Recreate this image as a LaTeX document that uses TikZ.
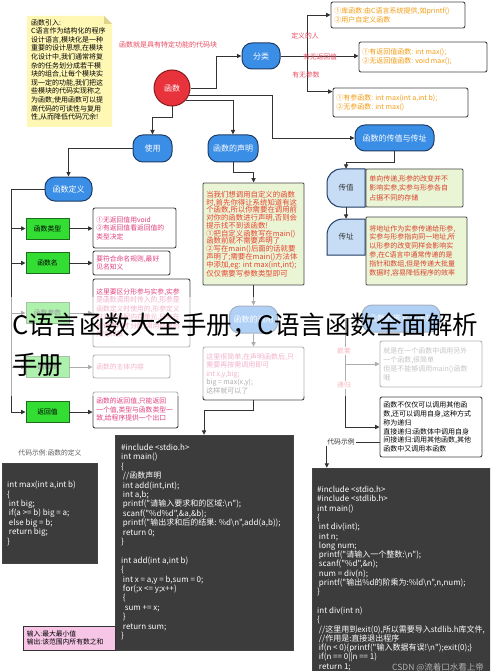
\documentclass[tikz,border=0pt]{standalone}
\usepackage{fontspec}
\setmainfont{Noto Sans CJK SC}
\newfontfamily\codefont{Noto Sans CJK SC}
\usetikzlibrary{arrows.meta}
\definecolor{linec}{HTML}{333333}
\definecolor{nblue}{HTML}{3A8EE6}
\definecolor{navy}{HTML}{1F3D66}
\definecolor{gbright}{HTML}{33DD33}
\definecolor{gdark}{HTML}{1E6B1E}
\definecolor{fnred}{HTML}{E8323C}
\definecolor{fnredd}{HTML}{8B1A1A}
\definecolor{pinkt}{HTML}{E0407F}
\definecolor{declt}{HTML}{E8432E}
\definecolor{redt}{HTML}{D9402B}
\definecolor{oranget}{HTML}{F39C12}
\definecolor{labc}{HTML}{E84A5F}
\definecolor{notey}{HTML}{FFF8B4}
\definecolor{notef}{HTML}{DDD38A}
\definecolor{greenbox}{HTML}{EAF5D5}
\definecolor{lightblue}{HTML}{C7DDF5}
\definecolor{codebg}{HTML}{3C3C3C}
\definecolor{pinkbox}{HTML}{F7C6E6}
\definecolor{boxb}{HTML}{444444}
\newcommand{\fsz}[2]{\fontsize{#1}{#2}\selectfont}
\newcommand{\mybox}[8]{%
  \node[#6, minimum width={(#4-#2)*1pt}, minimum height={(#5-#3)*1pt}] (#1) at ({(#2+#4)/2},{(#3+#5)/2}) {};
  \node[anchor=west, align=left, inner sep=0pt, #7] at ([xshift=3.5pt]#1.west) {#8};}
\begin{document}
\begin{tikzpicture}[x=1pt,y=-1pt,
  conn/.style={draw=linec, line width=0.9pt, -{Triangle[length=4.5pt,width=4.2pt]}},
  bnode/.style={draw=navy, line width=1pt, fill=nblue, text=white, rounded corners=10pt, font=\fsz{8}{9}, inner sep=0pt},
  gnode/.style={draw=gdark, line width=0.9pt, fill=gbright, font=\fsz{6.8}{8}, minimum width=43pt, minimum height=21pt, inner sep=0pt},
  dbox/.style={draw=boxb, line width=0.9pt, fill=white, rounded corners=2pt},
  lbl/.style={text=labc, font=\fsz{6.8}{8}, inner sep=1pt},
  pinktxt/.style={text=pinkt, font=\fsz{6.8}{8.5}},
  codetxt/.style={text=white, font=\codefont\fsz{8}{9.4}, align=left, inner sep=0pt, anchor=north west},
]
\useasboundingbox (0,0) rectangle (490,671);
\clip (0,0) rectangle (490,671);
\fill[white] (0,0) rectangle (490,671);

% note
\fill[notey] (27,16) -- (104,16) -- (112,24) -- (112,127) -- (27,127) -- cycle;
\fill[notef] (104,16) -- (104,24) -- (112,24) -- cycle;
\node[anchor=north west, align=left, inner sep=0pt, font=\fsz{7}{8.6}] (note) at (31,19) {函数引入:\\C语言作为结构化的程序\\设计语言,模块化是一种\\重要的设计思想,在模块\\化设计中,我们通常将复\\杂的任务划分成若干模\\块的组合,让每个模块实\\现一定的功能,我们把这\\些模块的代码实现称之\\为函数;使用函数可以提\\高代码的可读性与复用\\性,从而降低代码冗余!};

\node[text=labc, font=\fsz{7}{8}] (deflabel) at (168,45) {函数就是具有特定功能的代码块};

% main circle
\node[circle, fill=fnred, draw=fnredd, line width=1pt, minimum size=36pt, inner sep=0pt, text=white, font=\fsz{8}{9}] (fn) at (172,88) {函数};

% blue nodes
\node[bnode, minimum width=38pt, minimum height=26pt] (cls) at (261,56) {分类};
\node[bnode, minimum width=39pt, minimum height=27pt] (use) at (152.5,148.5) {使用};
\node[bnode, minimum width=50pt, minimum height=27pt] (decl) at (233,148.5) {函数的声明};
\node[bnode, minimum width=79pt, minimum height=26pt] (pv) at (394.5,138) {函数的传值与传址};
\node[bnode, minimum width=47pt, minimum height=24pt] (def) at (68.5,189) {函数定义};
\node[bnode, minimum width=48pt, minimum height=27pt] (call) at (253.5,319.5) {函数的调用};
\node[bnode, minimum width=78pt, minimum height=27pt] (nest) at (401,318.5) {函数的嵌套与递归};

% classification boxes
\mybox{b1}{331}{2}{465}{28}{dbox}{text=oranget, font=\fsz{7}{9}}{①库函数:由C语言系统提供,如printf()\\②用户自定义函数}
\mybox{b2}{359}{42}{487}{72}{dbox}{text=oranget, font=\fsz{7}{9}}{①有返回值函数: int max();\\②无返回值函数: void max();}
\mybox{b3}{333}{88}{468}{117}{dbox}{text=oranget, font=\fsz{7}{9}}{①有参函数: int max(int a,int b);\\②无参函数: int max()}

% left column
\node[gnode] (g1) at (47.5,228.5) {函数类型};
\node[gnode] (g2) at (47.5,263) {函数名};
\node[gnode] (g3) at (47.5,313) {函数参数};
\node[gnode] (g4) at (47.5,367) {函数体};
\node[gnode] (g5) at (47.5,412) {返回值};
\mybox{d1}{93}{208}{176}{248}{dbox}{pinktxt}{①无返回值用void\\②有返回值看返回值的\\类型决定}
\mybox{d2}{93}{251}{170}{275}{dbox}{pinktxt}{要符合命名规则,最好\\见名知义}
\mybox{d3}{93}{279}{190}{347}{dbox}{pinktxt}{这里要区分形参与实参,实参\\是函数调用时传入的,形参是\\函数定义时使用的,形参定义\\时并不分配内存单元,只有在\\被调用时才分配,调用结束后\\用完释放}
\mybox{d4}{93}{355}{170}{378}{dbox}{pinktxt}{函数的主体内容}
\mybox{d5}{93}{392}{178}{428}{dbox}{pinktxt}{函数的返回值,只能返回\\一个值,类型与函数类型一\\致,给程序提供一个出口}

% middle column
\mybox{declbox}{203}{183}{304}{285}{dbox, fill=greenbox, rounded corners=1pt}{text=declt, font=\fsz{7.4}{7.75}}{当我们想调用自定义的函数\\时,首先你得让系统知道有这\\个函数,所以你需要在调用前\\对你的函数进行声明,否则会\\提示找不到该函数!\\①把自定义函数写在main()\\函数前就不需要声明了\\②写在main()后面的话就要\\声明了;需要在main()方法体\\中添加,eg: int max(int,int);\\仅仅需要写参数类型即可}
\mybox{callbox}{203}{347}{304}{400}{dbox}{font=\fsz{7}{8.5}}{\textcolor{pinkt}{这里很简单,在声明函数后,只}\\\textcolor{pinkt}{需要再按需调用即可}\\\textcolor{pinkt}{int x,y,big;}\\\textcolor{linec}{big = max(x,y);}\\\textcolor{linec}{这样就可以了}}

% pass by value / address
\fill[lightblue, draw=navy, line width=1pt] (365,169) -- (341,169) .. controls (333.3,169) and (327,175.3) .. (327,183) -- (327,193) .. controls (327,200.7) and (333.3,207) .. (341,207) -- (365,207) -- cycle;
\node[minimum width=38pt, minimum height=38pt, inner sep=0pt, text=linec, font=\fsz{7.5}{8}] (cz) at (346,188) {传值};
\fill[lightblue, draw=navy, line width=1pt] (365,219) -- (343,219) .. controls (334.2,219) and (327,226.2) .. (327,235) -- (327,255) -- (365,255) -- cycle;
\node[minimum width=38pt, minimum height=36pt, inner sep=0pt, text=linec, font=\fsz{7.5}{8}] (cd) at (346,237) {传址};
\mybox{czbox}{366}{169}{463}{207}{dbox, fill=greenbox, rounded corners=1pt}{text=redt, font=\fsz{7}{9.5}}{单向传递,形参的改变并不\\影响实参,实参与形参各自\\占据不同的存储}
\mybox{cdbox}{366}{217}{467}{285}{dbox, fill=greenbox, rounded corners=1pt}{text=redt, font=\fsz{7}{8.9}}{将地址作为实参传递给形参,\\实参与形参指向同一地址,所\\以形参的改变同样会影响实\\参,在C语言中通常传递的是\\指针和数组,但是传递大批量\\数据时,容易降低程序的效率}

% nesting / recursion
\mybox{nestbox}{380}{341}{482}{387}{dbox}{text=linec!70, font=\fsz{7}{9}}{就是在一个函数中调用另外\\一个函数,很简单\\但是不能够调用main()函数\\哦}
\mybox{recbox}{380}{397}{482}{457}{dbox}{text=black, font=\fsz{7}{8.8}}{函数不仅仅可以调用其他函\\数,还可以调用自身,这种方式\\称为递归\\直接递归:函数体中调用自身\\间接递归:调用其他函数,其他\\函数中又调用本函数}

% code boxes
\node[fill=codebg, draw=boxb, minimum width=95pt, minimum height=100pt, inner sep=0pt] (code0) at (49.5,513) {};
\node[codetxt] at (7,481) {int max(int a,int b)\\\{\\\ int big;\\\ if(a >= b) big = a;\\\ else big = b;\\\ return big;\\\}};
\node[text=linec!80, font=\fsz{6.8}{8}] (code0lbl) at (50,453) {代码示例:函数的定义};

\node[fill=codebg, draw=boxb, minimum width=178pt, minimum height=215pt, inner sep=0pt] (code1) at (204,542.5) {};
\node[codetxt] at (121,444) {\#include <stdio.h>\\int main()\\\{\\\ //函数声明\\\ int add(int,int);\\\ int a,b;\\\ printf("请输入要求和的区域:\textbackslash n");\\\ scanf("\%d\%d",\&a,\&b);\\\ printf("输出求和后的结果: \%d\textbackslash n",add(a,b));\\\ return 0;\\\}\\\mbox{}\\int add(int a,int b)\\\{\\\ int x = a,y = b,sum = 0;\\\ for(;x <= y;x++)\\\ \{\\\ \ sum += x;\\\ \}\\\ return sum;\\\}};

\node[fill=pinkbox, draw=linec, line width=0.8pt, minimum width=92pt, minimum height=24pt, inner sep=0pt] (pinkb) at (69,638) {};
\node[anchor=west, align=left, inner sep=0pt, font=\fsz{6.8}{8.5}] at ([xshift=4pt]pinkb.west) {输入:最大最小值\\输出:该范围内所有数之和};

\node[fill=codebg, draw=boxb, minimum width=180pt, minimum height=210pt, inner sep=0pt] (code2) at (402,573) {};
\node[codetxt, font=\codefont\fsz{8}{9.3}] at (317,486) {\#include <stdio.h>\\\#include <stdlib.h>\\int main()\\\{\\\ int div(int);\\\ int n;\\\ long num;\\\ printf("请输入一个整数:\textbackslash n");\\\ scanf("\%d",\&n);\\\ num = div(n);\\\ printf("输出\%d的阶乘为:\%ld\textbackslash n",n,num);\\\}\\\mbox{}\\int div(int n)\\\{\\\ //这里用到exit(0),所以需要导入stdlib.h库文件,\\\ //作用是:直接退出程序\\\ if(n < 0)\{printf("输入数据有误!\textbackslash n");exit(0);\}\\\ if(n == 0||n == 1)\\\ return 1;};

% connectors
\coordinate (k0) at (11,0);
\coordinate (k1) at (216,0);
\coordinate (k2) at (272,0);
\coordinate (k3) at (345,0);
\coordinate (k4) at (307,0);
\draw[conn] (fn.east) -- (fn.east -| k1) |- (cls.west);
\draw[conn] (fn.-23) -- (fn.-23 -| k2) |- (pv.west);
\draw[conn] (fn.-42) -| (decl.north);
\draw[conn] (fn.south) -- ++(0,11) -| (use.north);
\draw[conn] (cls.east) -- (b2.west |- cls.east);
\draw[conn] (cls.east) -- (cls.east -| k4) |- (b1.west);
\draw[conn] (cls.east) -- (cls.east -| k4) |- ([yshift=-4pt]b3.north west);
\node[lbl] (lab1) at (305,36) {定义的人};
\node[lbl] (lab2) at (320,57) {有无返回值};
\node[lbl] (lab3) at (306,75) {有无参数};

\draw[conn] (use.west) -| (def.north);
\foreach \g in {g1,g2,g3,g4,g5}{\draw[conn] (def.west) -- (def.west -| k0) |- (\g.west);}
\draw[conn] (g1.east) -- (d1.west |- g1.east);
\draw[conn] (g2.east) -- (d2.west |- g2.east);
\draw[conn] (g3.east) -- (d3.west |- g3.east);
\draw[conn] (g4.east) -- (d4.west |- g4.east);
\draw[conn] (g5.east) -- (d5.west |- g5.east);

\draw[conn] (decl.south) -- ++(0,10) -| (declbox.north);
\draw[conn] (declbox.south) -- (call.north);
\draw[conn] (call.south) -- (callbox.north);
\draw[conn] (callbox.south) -- ++(0,10) -| (code1.north);

\draw[conn] (pv.south) -- ++(0,11) -| (cz.north);
\draw[conn] (cz.south) -- (cd.north);

\draw[conn] (nest.west) -- (nest.west -| k3) |- (nestbox.west);
\draw[conn] (nest.west) -- (nest.west -| k3) |- (recbox.west);
\node[lbl, fill=white] (lab4) at (344,351) {嵌套};
\node[lbl, fill=white] (lab5) at (344,385) {递归};
\draw[conn] ([yshift=-15pt]recbox.west) -| ([xshift=15pt]code2.north west);
\node[lbl, fill=white, text=linec] (lab6) at (341,442) {代码示例};

\node[anchor=base west, text=black!30, font=\fsz{8.5}{9}, inner sep=0pt] (wm) at (392,670) {CSDN @流着口水看上帝};

% overlay band and title
\fill[white, opacity=0.6] (0,297) rectangle (490,396);
\node[anchor=base west, inner sep=0pt, font=\fsz{25.5}{30}] (ov1) at (12,334) {C语言函数大全手册，C语言函数全面解析};
\node[anchor=base west, inner sep=0pt, font=\fsz{25.5}{30}] (ov2) at (12,374) {手册};
\end{tikzpicture}
\end{document}
